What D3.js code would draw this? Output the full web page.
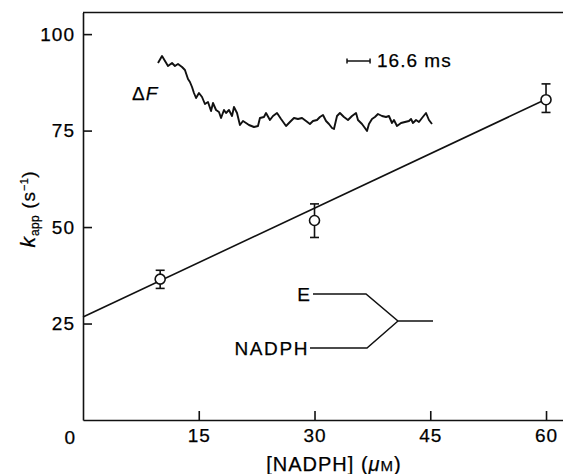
<!DOCTYPE html>
<html>
<head>
<meta charset="utf-8">
<script src="https://cdn.jsdelivr.net/npm/d3@7/dist/d3.min.js"></script>
<style>
    body { margin: 0; background: #fff; }
    svg text { font-family: "Liberation Sans", Arial, sans-serif; font-size: 19px; fill: #000; stroke: #000; stroke-width: 0.25px; letter-spacing: 1px; }
</style>
</head>
<body>
<svg id="canvas" width="563" height="474"></svg>
<script>
// measured points: k_app vs [NADPH]
var nadph = [10, 30, 60];
var kapp = [36.5, 51.7, 83.0];
var kappLow = [34.1, 47.3, 79.7];
var kappHigh = [38.8, 56.0, 87.1];

// straight line fit
var fitIntercept = 26.7;
var fitSlope = 0.94;
var fitRange = [0, 60];

var xTicks = [15, 30, 45, 60];
var yTicks = [25, 50, 75, 100];

// inset stopped-flow trace (time in ms, fluorescence in arbitrary units)
var traceTime = [0, 2.9, 7.2, 10.1, 12.2, 14.4, 17.3, 19.4, 21.6, 23.0, 24.5, 25.9, 27.4, 29.5, 31.7, 33.8,
    36.0, 38.2, 39.6, 41.8, 43.9, 45.4, 47.5, 49.0, 51.1, 53.3, 54.7, 56.9, 59.0, 61.2, 63.4, 65.5,
    69.1, 72.0, 73.4, 76.3, 77.8, 80.6, 82.8, 85.7, 88.6, 92.2, 95.0, 97.9, 100.8, 103.7, 106.6, 109.4,
    111.6, 114.5, 116.6, 118.8, 121.0, 123.1, 125.3, 126.7, 128.9, 131.0, 133.9, 136.8, 139.7, 142.6,
    144.0, 146.9, 149.0, 150.5, 151.9, 154.1, 156.2, 158.4, 161.3, 164.2, 166.3, 168.5, 169.9, 172.1,
    175.0, 177.8, 180.7, 182.2, 183.6, 185.8, 187.9, 190.1, 193.0, 195.1, 197.3];
var traceSignal = [68, 75, 65, 68, 65, 67, 64, 61, 52, 49, 44, 38, 33, 38, 34, 27,
    29, 20, 28, 21, 19, 13, 21, 18, 21, 15, 24, 18, 6, 10, 8, 6,
    4, 5, 13, 14, 18, 11, 15, 18, 12, 5, 9, 13, 12, 13, 10, 7,
    10, 11, 14, 16, 10, 7, 3, 2, 15, 18, 14, 11, 15, 18,
    11, 7, 3, 0, 7, 12, 14, 17, 15, 14, 15, 8, 11, 5,
    8, 9, 10, 12, 8, 11, 9, 13, 18, 11, 7];
var scaleBarStart = 136.1;
var scaleBarMs = 16.6;

var svg = d3.select(document.getElementById("canvas"));

var x = d3.scaleLinear().domain([0, 62.2]).range([83, 563]);
var y = d3.scaleLinear().domain([0, 105.6]).range([420, 12.5]);

// Axes
var xAxis = svg.append("g")
    .attr("transform", "translate(0," + y(0) + ")")
    .call(d3.axisBottom(x).tickValues(xTicks).tickSizeInner(-9).tickSizeOuter(0).tickPadding(9));
var yAxis = svg.append("g")
    .attr("transform", "translate(" + x(0) + ",0)")
    .call(d3.axisLeft(y).tickValues(yTicks).tickSizeInner(-9).tickSizeOuter(0).tickPadding(8));

[xAxis, yAxis].forEach(function(axis) {
    axis.selectAll("path, line").attr("stroke", "#111").attr("stroke-width", 1.6);
    axis.selectAll("text")
        .attr("fill", "#000")
        .style("font-family", "\"Liberation Sans\", Arial, sans-serif")
        .style("font-size", "19px");
});

// top frame line
svg.append("line")
    .attr("x1", x(0)).attr("x2", x(62.2))
    .attr("y1", y(105.6)).attr("y2", y(105.6))
    .attr("stroke", "#111").attr("stroke-width", 1.6);

// shared zero at the corner
svg.append("text")
    .attr("x", x(0) - 7)
    .attr("y", y(0) + 24)
    .attr("text-anchor", "end")
    .text("0");

// axis titles
var xTitle = svg.append("text")
    .attr("x", 334)
    .attr("y", 471)
    .attr("text-anchor", "middle")
    .style("font-size", "20px");
xTitle.append("tspan").text("[NADPH] (");
xTitle.append("tspan").attr("font-style", "italic").text("\u03bc");
xTitle.append("tspan").style("font-size", "15px").text("M");
xTitle.append("tspan").text(")");

var yTitle = svg.append("text")
    .attr("transform", "translate(35,209) rotate(-90)")
    .attr("text-anchor", "middle");
yTitle.append("tspan").attr("font-style", "italic").style("font-size", "21px").text("k");
yTitle.append("tspan").attr("dy", 4).style("font-size", "12px").style("letter-spacing", "0.3px").text("app");
yTitle.append("tspan").attr("dy", -4).text(" (s");
yTitle.append("tspan").attr("dy", -7).style("font-size", "11px").style("letter-spacing", "0.3px").text("\u22121");
yTitle.append("tspan").attr("dy", 7).text(")");

// fitted line
var fitLine = d3.line()
    .x(function(d) { return x(d); })
    .y(function(d) { return y(fitIntercept + fitSlope * d); });
svg.append("path")
    .datum(fitRange)
    .attr("d", fitLine)
    .attr("fill", "none")
    .attr("stroke", "#111")
    .attr("stroke-width", 1.6);

// error bars and markers
var points = svg.selectAll("g.point")
    .data(nadph)
    .enter().append("g")
    .attr("class", "point");
points.append("line")
    .attr("x1", function(d) { return x(d); })
    .attr("x2", function(d) { return x(d); })
    .attr("y1", function(d, i) { return y(kappLow[i]); })
    .attr("y2", function(d, i) { return y(kappHigh[i]); })
    .attr("stroke", "#111").attr("stroke-width", 1.6);
points.selectAll("line.cap")
    .data(function(d, i) { return [[d, kappLow[i]], [d, kappHigh[i]]]; })
    .enter().append("line")
    .attr("class", "cap")
    .attr("x1", function(d) { return x(d[0]) - 4.5; })
    .attr("x2", function(d) { return x(d[0]) + 4.5; })
    .attr("y1", function(d) { return y(d[1]); })
    .attr("y2", function(d) { return y(d[1]); })
    .attr("stroke", "#111").attr("stroke-width", 1.6);
points.append("circle")
    .attr("cx", function(d) { return x(d); })
    .attr("cy", function(d, i) { return y(kapp[i]); })
    .attr("r", 5)
    .attr("fill", "#fff")
    .attr("stroke", "#111")
    .attr("stroke-width", 1.6);

// Inset: fluorescence trace
var tx = d3.scaleLinear().domain([0, 197.3]).range([158, 432]);
var ty = d3.scaleLinear().domain([0, 75]).range([131, 56]);

var traceLine = d3.line()
    .x(function(d) { return tx(d); })
    .y(function(d, i) { return ty(traceSignal[i]); });
svg.append("path")
    .datum(traceTime)
    .attr("d", traceLine)
    .attr("fill", "none")
    .attr("stroke", "#111")
    .attr("stroke-width", 1.9)
    .attr("stroke-linejoin", "round");

var fLabel = svg.append("text")
    .attr("x", tx(0) - 26)
    .attr("y", ty(31));
fLabel.append("tspan").text("\u0394");
fLabel.append("tspan").attr("font-style", "italic").text("F");

// 16.6 ms scale bar
var barY = ty(70);
var bar = svg.append("g").attr("stroke", "#111").attr("stroke-width", 1.5);
bar.append("line")
    .attr("x1", tx(scaleBarStart)).attr("x2", tx(scaleBarStart + scaleBarMs))
    .attr("y1", barY).attr("y2", barY);
[scaleBarStart, scaleBarStart + scaleBarMs].forEach(function(t) {
    bar.append("line")
        .attr("x1", tx(t)).attr("x2", tx(t))
        .attr("y1", barY - 2.5).attr("y2", barY + 2.5);
});
svg.append("text")
    .attr("x", tx(scaleBarStart + scaleBarMs) + 7)
    .attr("y", barY + 6)
    .text("16.6 ms");

// Inset: mixing scheme E + NADPH
var scheme = svg.append("g").attr("transform", "translate(398,321)");
var schemePath = d3.line();
scheme.append("path")
    .attr("d", schemePath([[-85, -27], [-32, -27], [0, 0], [35, 0]]))
    .attr("fill", "none").attr("stroke", "#111").attr("stroke-width", 1.5);
scheme.append("path")
    .attr("d", schemePath([[-88, 27], [-31, 27], [0, 0]]))
    .attr("fill", "none").attr("stroke", "#111").attr("stroke-width", 1.5);
scheme.append("text")
    .attr("x", -87)
    .attr("y", -20)
    .attr("text-anchor", "end")
    .text("E");
scheme.append("text")
    .attr("x", -89)
    .attr("y", 34)
    .attr("text-anchor", "end")
    .style("letter-spacing", "1.6px")
    .text("NADPH");
</script>
</body>
</html>
